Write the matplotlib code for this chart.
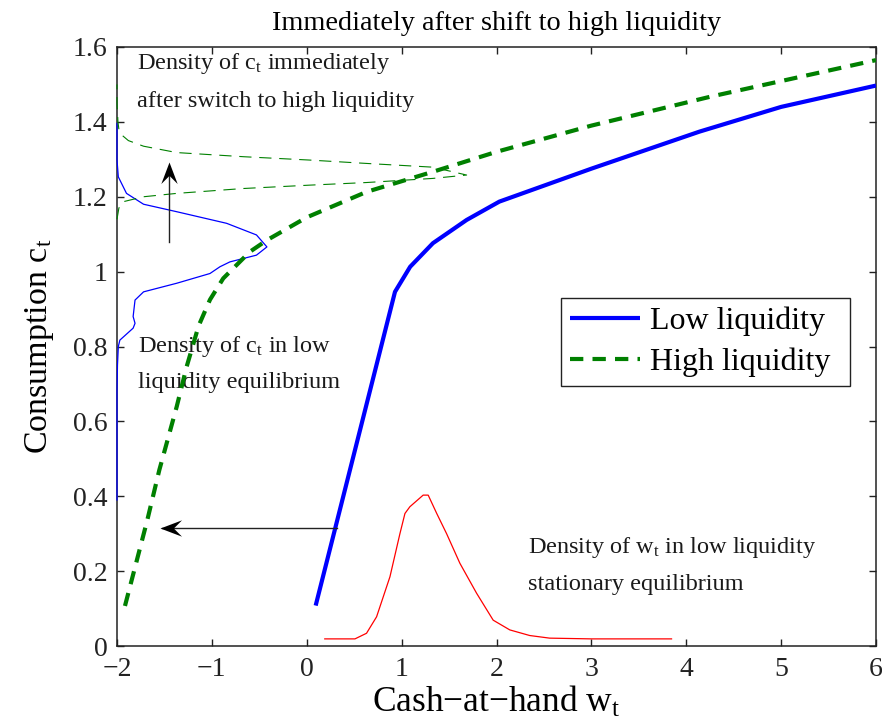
import numpy as np
import matplotlib
matplotlib.use('Agg')
import matplotlib.pyplot as plt
from matplotlib.path import Path

plt.rcParams['font.family'] = ['Liberation Serif', 'DejaVu Serif']
plt.rcParams['mathtext.fontset'] = 'custom'
plt.rcParams['mathtext.rm'] = 'Liberation Serif'
plt.rcParams['mathtext.it'] = 'Liberation Serif:italic'
plt.rcParams['mathtext.default'] = 'regular'

# ---------------- data ----------------
low_w = [0.094, 0.93, 1.09, 1.33, 1.685, 2.03, 3.0, 4.14, 5.0, 6.0]
low_c = [0.108, 0.946, 1.013, 1.076, 1.138, 1.187, 1.275, 1.374, 1.44, 1.497]

high_w = [-1.916, -1.68, -1.554, -1.371, -1.266, -1.14, -1.02, -0.88, -0.60, -0.42,
          0.0, 0.63, 1.333, 2.0, 3.0, 4.25, 6.0]
high_c = [0.107, 0.337, 0.47, 0.639, 0.746, 0.855, 0.925, 0.982, 1.053, 1.084,
          1.145, 1.213, 1.267, 1.32, 1.39, 1.467, 1.565]

# density of c_t in low liquidity equilibrium (drawn sideways from left axis)
dens_low_c = [0.39, 0.5, 0.6, 0.68, 0.75, 0.80, 0.817, 0.849, 0.862, 0.88, 0.924,
              0.946, 0.969, 0.995, 1.013, 1.026, 1.044, 1.066, 1.098, 1.129, 1.16,
              1.18, 1.209, 1.253, 1.298, 1.35, 1.396]
dens_low_f = [0, 0, 0, 0, 0.005, 0.014, 0.03, 0.17, 0.19, 0.17, 0.19,
              0.28, 0.63, 0.98, 1.085, 1.19, 1.47, 1.58, 1.47, 1.156, 0.63,
              0.28, 0.10, 0.014, 0, 0, 0]

# density of c_t immediately after switch to high liquidity
dens_high_c = [1.14, 1.17, 1.187, 1.20, 1.209, 1.222, 1.231, 1.238, 1.249, 1.258,
               1.279, 1.289, 1.298, 1.307, 1.318, 1.335, 1.35, 1.365, 1.38, 1.40, 1.45, 1.5]
dens_high_f = [0.0, 0.02, 0.07, 0.28, 0.63, 1.33, 2.03, 2.63, 3.33, 3.685,
               3.33, 2.63, 2.03, 1.33, 0.63, 0.28, 0.12, 0.05, 0.02, 0.01, 0.0, 0.0]

# density of w_t in low liquidity stationary equilibrium
dens_w = [0.19, 0.508, 0.63, 0.736, 0.877, 0.982, 1.035, 1.087, 1.227, 1.28, 1.37,
          1.474, 1.614, 1.79, 1.965, 2.14, 2.35, 2.56, 3.0, 3.845]
dens_w_f = [0.019, 0.019, 0.034, 0.078, 0.185, 0.30, 0.354, 0.372, 0.403, 0.403, 0.354,
            0.30, 0.221, 0.141, 0.069, 0.043, 0.028, 0.021, 0.019, 0.019]

xticks = [-2, -1, 0, 1, 2, 3, 4, 5, 6]
yticks = [0, 0.2, 0.4, 0.6, 0.8, 1.0, 1.2, 1.4, 1.6]
xtick_labels = ['\u22122', '\u22121', '0', '1', '2', '3', '4', '5', '6']
ytick_labels = ['0', '0.2', '0.4', '0.6', '0.8', '1', '1.2', '1.4', '1.6']

XMIN, XMAX, YMIN, YMAX = -2, 6, 0, 1.6

# ---------------- figure ----------------
fig = plt.figure(figsize=(8.82, 7.25), dpi=100)
ax = fig.add_axes([117/882, 79/725, 759/882, 599/725])

green = '#008000'
ax.plot(low_w, low_c, color='#0000ff', lw=3.0, solid_capstyle='butt', label='Low liquidity', zorder=4)
ax.plot(high_w, high_c, color=green, lw=3.0, dashes=(3.2, 2.2), label='High liquidity', zorder=4)

ax.plot(XMIN + np.array(dens_low_f), dens_low_c, color='#0000ff', lw=0.9, clip_on=False, zorder=3)
ax.plot(XMIN + np.array(dens_high_f), dens_high_c, color=green, lw=0.8,
        dashes=(11, 7), clip_on=False, zorder=3)
ax.plot(dens_w, dens_w_f, color='#ff0000', lw=0.9, zorder=3)

# arrows
head_left = Path([(0, 0), (1, 0.38), (0.62, 0), (1, -0.38), (0, 0)],
                 [Path.MOVETO, Path.LINETO, Path.LINETO, Path.LINETO, Path.CLOSEPOLY])
head_up = Path([(0, 0), (0.38, -1), (0, -0.62), (-0.38, -1), (0, 0)],
               [Path.MOVETO, Path.LINETO, Path.LINETO, Path.LINETO, Path.CLOSEPOLY])
arr_col = '#222222'
ax.plot([0.315, -1.53], [0.314, 0.314], color=arr_col, lw=1.0, zorder=5)
ax.plot([-1.547], [0.314], marker=head_left, ms=31, color='k', mew=0, zorder=6)
ax.plot([-1.45, -1.45], [1.08, 1.28], color=arr_col, lw=1.0, zorder=5)
ax.plot([-1.45], [1.294], marker=head_up, ms=31, color='k', mew=0, zorder=6)

# annotations
tfs = 17.5
tc = '#1a1a1a'
ax.text(-1.789, 1.540, 'Density of c$_t$ immediately', fontsize=tfs, va='baseline', color=tc)
ax.text(-1.789, 1.439, 'after switch to high liquidity', fontsize=tfs, va='baseline', color=tc)
ax.text(-1.782, 0.786, 'Density of c$_t$ in low', fontsize=tfs, va='baseline', color=tc)
ax.text(-1.782, 0.688, 'liquidity equilibrium', fontsize=tfs, va='baseline', color=tc)
ax.text(2.334, 0.248, 'Density of w$_t$ in low liquidity', fontsize=tfs, va='baseline', color=tc)
ax.text(2.334, 0.150, 'stationary equilibrium', fontsize=tfs, va='baseline', color=tc)

ax.set_xlim(XMIN, XMAX)
ax.set_ylim(YMIN, YMAX)
ax.set_xticks(xticks)
ax.set_xticklabels(xtick_labels)
ax.set_yticks(yticks)
ax.set_yticklabels(ytick_labels)
ax.tick_params(direction='in', length=5, width=1, top=True, right=True,
               labelsize=20, colors='#222222')
ax.tick_params(axis='x', pad=8)
ax.tick_params(axis='y', pad=7)
for s in ax.spines.values():
    s.set_linewidth(1.1)
    s.set_color('#222222')

ax.set_title('Immediately after shift to high liquidity', fontsize=20.3, pad=12)
ax.set_xlabel('Cash\u2212at\u2212hand w$_t$', fontsize=25.5, labelpad=2)
ax.set_ylabel('Consumption c$_t$', fontsize=24.5, labelpad=12)

leg = ax.legend(loc='upper left', bbox_to_anchor=(0.585, 0.481, 0.381, 0.1), mode='expand',
                borderaxespad=0, fontsize=23, handlelength=2.2, handletextpad=0.3,
                labelspacing=0.37, fancybox=False, framealpha=1, edgecolor='#222222',
                borderpad=0.27)
leg.get_frame().set_linewidth(1.0)

fig.savefig('out.png', dpi=100)
